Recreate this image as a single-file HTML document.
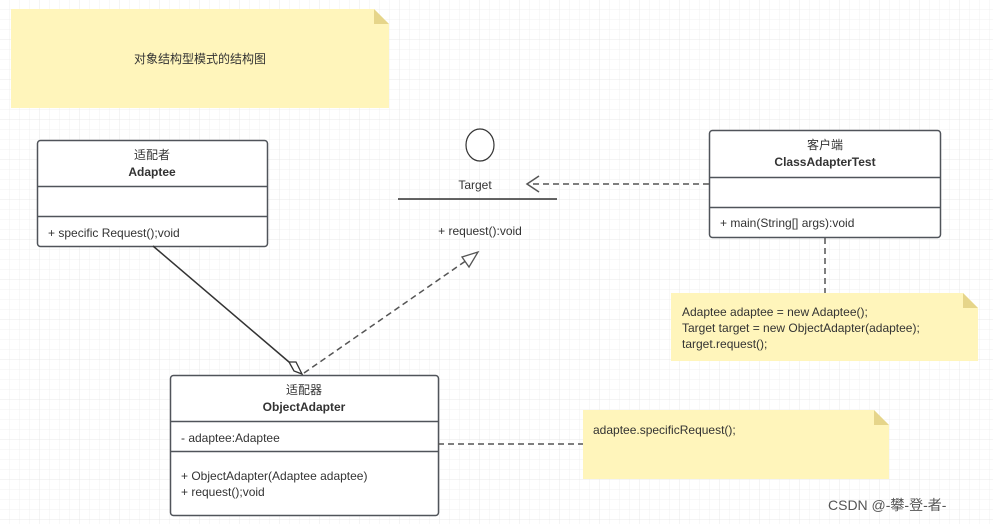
<!DOCTYPE html>
<html><head><meta charset="utf-8"><style>
html,body{margin:0;padding:0;background:#fff;}
svg{display:block;}
text{font-family:"Liberation Sans","Noto Sans CJK SC",sans-serif;font-size:12px;fill:#333;}
.b{font-weight:bold;}
</style></head><body>
<svg width="993" height="524" viewBox="0 0 993 524" xmlns="http://www.w3.org/2000/svg">
<defs>
<pattern id="g" width="10" height="10" patternUnits="userSpaceOnUse">
<path d="M10 0V10M0 10H10" stroke="#f1f1f1" stroke-width="1" fill="none"/>
</pattern>
<pattern id="G" width="40" height="40" patternUnits="userSpaceOnUse">
<path d="M40 0V40M0 40H40" stroke="#e8e8e8" stroke-width="1" fill="none"/>
</pattern>
</defs>
<rect width="993" height="524" fill="url(#g)"/>
<rect width="993" height="524" fill="url(#G)"/>

<!-- note 1 -->
<polygon points="11,9 374,9 389,24 389,108 11,108" fill="#fff5bb"/>
<polygon points="374,9 389,24 374,24" fill="#e6d58a"/>
<text x="200" y="63" text-anchor="middle">对象结构型模式的结构图</text>

<!-- Adaptee -->
<rect x="37.5" y="140.5" width="230" height="106" rx="3" fill="#fff" stroke="#50545a" stroke-width="1.5"/>
<line x1="37" y1="186.5" x2="267" y2="186.5" stroke="#50545a" stroke-width="1.5"/>
<line x1="37" y1="216.5" x2="267" y2="216.5" stroke="#50545a" stroke-width="1.5"/>
<text x="152" y="159" text-anchor="middle">适配者</text>
<text x="152" y="176" text-anchor="middle" class="b">Adaptee</text>
<text x="48" y="237">+ specific Request();void</text>

<!-- Target interface -->
<ellipse cx="480" cy="145" rx="14" ry="16" fill="#fff" stroke="#333" stroke-width="1.2"/>
<text x="475" y="189" text-anchor="middle">Target</text>
<line x1="398" y1="199" x2="557" y2="199" stroke="#333" stroke-width="1.5"/>
<text x="480" y="235" text-anchor="middle">+ request():void</text>

<!-- Client -->
<rect x="709.5" y="130.5" width="231" height="107" rx="3" fill="#fff" stroke="#50545a" stroke-width="1.5"/>
<line x1="709" y1="177.5" x2="940" y2="177.5" stroke="#50545a" stroke-width="1.5"/>
<line x1="709" y1="207.5" x2="940" y2="207.5" stroke="#50545a" stroke-width="1.5"/>
<text x="825" y="149" text-anchor="middle">客户端</text>
<text x="825" y="166" text-anchor="middle" class="b">ClassAdapterTest</text>
<text x="720" y="227">+ main(String[] args):void</text>

<!-- dependency arrow -->
<line x1="709" y1="184" x2="529" y2="184" stroke="#555" stroke-width="1.5" stroke-dasharray="6,4"/>
<polyline points="539,176 527,184 539,192" fill="none" stroke="#555" stroke-width="1.5"/>

<!-- client note link -->
<line x1="825" y1="238" x2="825" y2="293" stroke="#555" stroke-width="1.5" stroke-dasharray="6,4"/>
<polygon points="671,293 963,293 978,308 978,361 671,361" fill="#fff5bb"/>
<polygon points="963,293 978,308 963,308" fill="#e6d58a"/>
<text x="682" y="316">Adaptee adaptee = new Adaptee();</text>
<text x="682" y="332">Target target = new ObjectAdapter(adaptee);</text>
<text x="682" y="348">target.request();</text>

<!-- ObjectAdapter -->
<rect x="170.5" y="375.5" width="268" height="140" rx="3" fill="#fff" stroke="#50545a" stroke-width="1.5"/>
<line x1="170" y1="421.5" x2="438" y2="421.5" stroke="#50545a" stroke-width="1.5"/>
<line x1="170" y1="451.5" x2="438" y2="451.5" stroke="#50545a" stroke-width="1.5"/>
<text x="304" y="394" text-anchor="middle">适配器</text>
<text x="304" y="411" text-anchor="middle" class="b">ObjectAdapter</text>
<text x="181" y="442">- adaptee:Adaptee</text>
<text x="181" y="480">+ ObjectAdapter(Adaptee adaptee)</text>
<text x="181" y="496">+ request();void</text>

<!-- aggregation -->
<line x1="153" y1="246" x2="289" y2="362" stroke="#333" stroke-width="1.5"/>
<polygon points="289,362 296,362 302,374 294,371" fill="#fff" stroke="#333" stroke-width="1.3"/>

<!-- realization -->
<line x1="304" y1="373" x2="467" y2="260" stroke="#555" stroke-width="1.5" stroke-dasharray="6,4"/>
<polygon points="478,252 469,267 462,257" fill="#fff" stroke="#555" stroke-width="1.3"/>

<!-- note 3 -->
<line x1="438" y1="444" x2="583" y2="444" stroke="#555" stroke-width="1.5" stroke-dasharray="6,4"/>
<polygon points="583,410 874,410 889,425 889,479 583,479" fill="#fff5bb"/>
<polygon points="874,410 889,425 874,425" fill="#e6d58a"/>
<text x="593" y="434">adaptee.specificRequest();</text>

<text x="828" y="510" style="font-size:14px;fill:#555;">CSDN @-攀-登-者-</text>
</svg>
</body></html>
